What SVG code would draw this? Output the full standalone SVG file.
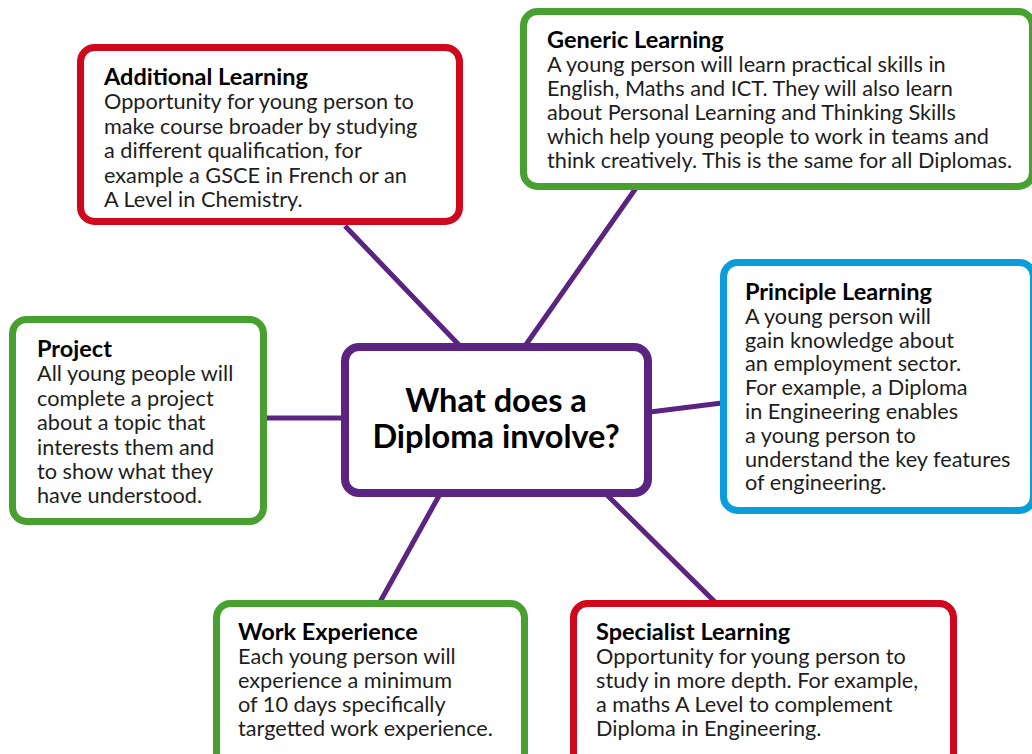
<svg xmlns="http://www.w3.org/2000/svg" width="1032" height="754" viewBox="0 0 1032 754">
<style>
.box{fill:#fff;stroke-width:7}
.red{stroke:#d0081e}
.green{stroke:#47a02f}
.blue{stroke:#0a9ddb}
.purple{stroke:#5b2480;stroke-width:8}
.conn line{stroke:#5b2480;stroke-width:5}
text{font-family:Lato,"Open Sans",sans-serif;font-size:21.7px;fill:#1e1e1e}
.t{font-weight:bold;font-size:23.5px;fill:#000}
.c{font-weight:bold;font-size:32.5px;fill:#000;text-anchor:middle}
</style>
<rect width="1032" height="754" fill="#fff"/>
<g class="conn" id="connectors">
<line x1="345" y1="226" x2="460" y2="346"/>
<line x1="636" y1="188" x2="525" y2="346"/>
<line x1="650" y1="412" x2="722" y2="403"/>
<line x1="265" y1="418" x2="343" y2="418"/>
<line x1="440" y1="494" x2="380" y2="602"/>
<line x1="606" y1="494" x2="715" y2="602"/>
</g>
<g id="center">
<rect class="box purple" x="345" y="347" width="303" height="146" rx="14"/>
<text class="c" x="496" y="412">What does a</text>
<text class="c" x="496" y="448">Diploma involve?</text>
</g>
<g id="additional">
<rect class="box red" x="80.5" y="47.5" width="379" height="174" rx="14"/>
<text x="104" y="85"><tspan class="t">Additional Learning</tspan><tspan x="104" dy="24.4">Opportunity for young person to</tspan><tspan x="104" dy="24.4">make course broader by studying</tspan><tspan x="104" dy="24.4">a different qualification, for</tspan><tspan x="104" dy="24.4">example a GSCE in French or an</tspan><tspan x="104" dy="24.4">A Level in Chemistry.</tspan></text>
</g>
<g id="generic">
<rect class="box green" x="523.5" y="11.5" width="509" height="175" rx="14"/>
<text x="547" y="48"><tspan class="t">Generic Learning</tspan><tspan x="547" dy="24">A young person will learn practical skills in</tspan><tspan x="547" dy="24">English, Maths and ICT. They will also learn</tspan><tspan x="547" dy="24">about Personal Learning and Thinking Skills</tspan><tspan x="547" dy="24">which help young people to work in teams and</tspan><tspan x="547" dy="24">think creatively. This is the same for all Diplomas.</tspan></text>
</g>
<g id="principle">
<rect class="box blue" x="723.5" y="262.5" width="310" height="248" rx="14"/>
<text x="745" y="300"><tspan class="t">Principle Learning</tspan><tspan x="745" dy="23.8">A young person will</tspan><tspan x="745" dy="23.8">gain knowledge about</tspan><tspan x="745" dy="23.8">an employment sector.</tspan><tspan x="745" dy="23.8">For example, a Diploma</tspan><tspan x="745" dy="23.8">in Engineering enables</tspan><tspan x="745" dy="23.8">a young person to</tspan><tspan x="745" dy="23.8">understand the key features</tspan><tspan x="745" dy="23.8">of engineering.</tspan></text>
</g>
<g id="project">
<rect class="box green" x="12.5" y="319.5" width="251" height="202" rx="14"/>
<text x="37" y="357"><tspan class="t">Project</tspan><tspan x="37" dy="24.4">All young people will</tspan><tspan x="37" dy="24.4">complete a project</tspan><tspan x="37" dy="24.4">about a topic that</tspan><tspan x="37" dy="24.4">interests them and</tspan><tspan x="37" dy="24.4">to show what they</tspan><tspan x="37" dy="24.4">have understood.</tspan></text>
</g>
<g id="work">
<rect class="box green" x="216.5" y="603.5" width="308" height="170" rx="14"/>
<text x="238" y="640"><tspan class="t">Work Experience</tspan><tspan x="238" dy="23.9">Each young person will</tspan><tspan x="238" dy="23.9">experience a minimum</tspan><tspan x="238" dy="23.9">of 10 days specifically</tspan><tspan x="238" dy="23.9">targetted work experience.</tspan></text>
</g>
<g id="specialist">
<rect class="box red" x="573.5" y="603.5" width="380" height="170" rx="14"/>
<text x="596" y="640"><tspan class="t">Specialist Learning</tspan><tspan x="596" dy="23.9">Opportunity for young person to</tspan><tspan x="596" dy="23.9">study in more depth. For example,</tspan><tspan x="596" dy="23.9">a maths A Level to complement</tspan><tspan x="596" dy="23.9">Diploma in Engineering.</tspan></text>
</g>
</svg>
